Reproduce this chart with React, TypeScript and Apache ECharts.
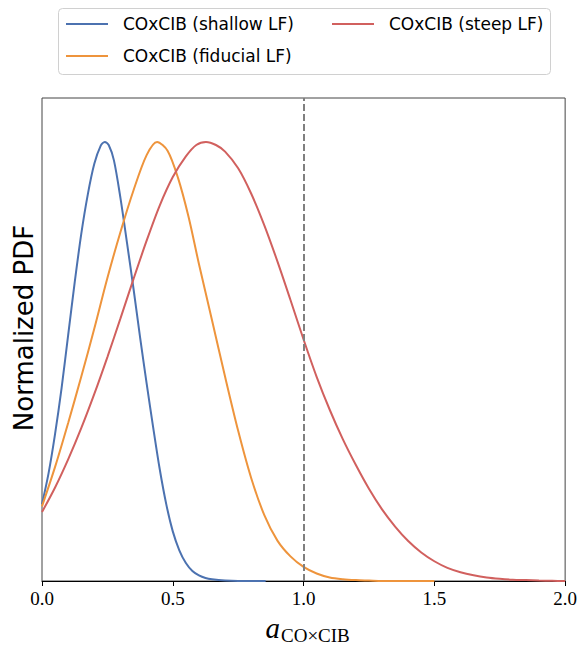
import React, { useEffect, useRef } from "react";
import * as echarts from "echarts";

// Shallow LF (blue)
const shallowX = [0, 0.025, 0.05, 0.075, 0.1, 0.125, 0.15, 0.175, 0.2, 0.225, 0.24, 0.255, 0.275, 0.3, 0.325, 0.35, 0.375, 0.4, 0.425, 0.45, 0.475, 0.5, 0.525, 0.55, 0.575, 0.6, 0.625, 0.65, 0.7, 0.75, 0.8, 0.855];
const shallowY = [0.175, 0.245, 0.335, 0.44, 0.56, 0.68, 0.79, 0.88, 0.95, 0.992, 1.0, 0.993, 0.958, 0.872, 0.77, 0.665, 0.555, 0.45, 0.35, 0.255, 0.175, 0.113, 0.07, 0.041, 0.023, 0.013, 0.007, 0.004, 0.001, 0.0, 0.0, 0.0];

// Fiducial LF (orange)
const fiducialX = [0, 0.05, 0.1, 0.15, 0.2, 0.25, 0.3, 0.35, 0.4, 0.44, 0.48, 0.52, 0.56, 0.6, 0.65, 0.7, 0.75, 0.8, 0.85, 0.9, 0.95, 1.0, 1.05, 1.1, 1.15, 1.2, 1.25, 1.3, 1.4, 1.5];
const fiducialY = [0.17, 0.26, 0.36, 0.465, 0.575, 0.69, 0.795, 0.89, 0.97, 1.0, 0.98, 0.918, 0.83, 0.722, 0.594, 0.465, 0.342, 0.234, 0.15, 0.092, 0.056, 0.032, 0.017, 0.008, 0.004, 0.002, 0.001, 0.0, 0.0, 0.0];

// Steep LF (red)
const steepX = [0, 0.05, 0.1, 0.15, 0.2, 0.25, 0.3, 0.35, 0.4, 0.45, 0.5, 0.55, 0.59, 0.627, 0.665, 0.7, 0.75, 0.8, 0.85, 0.9, 0.95, 1.0, 1.05, 1.1, 1.15, 1.2, 1.25, 1.3, 1.35, 1.4, 1.45, 1.5, 1.55, 1.6, 1.65, 1.7, 1.75, 1.8, 1.85, 1.9, 1.95, 2.0];
const steepY = [0.157, 0.213, 0.277, 0.348, 0.426, 0.51, 0.598, 0.688, 0.775, 0.855, 0.92, 0.967, 0.993, 1.0, 0.993, 0.978, 0.94, 0.882, 0.81, 0.728, 0.64, 0.55, 0.465, 0.39, 0.323, 0.264, 0.21, 0.163, 0.124, 0.091, 0.065, 0.045, 0.03, 0.02, 0.013, 0.008, 0.005, 0.003, 0.002, 0.001, 0.0005, 0.0];

const xTicks = [0, 0.5, 1.0, 1.5, 2.0];
const referenceLine = 1.0;

const seriesNames = ["COxCIB (shallow LF)", "COxCIB (fiducial LF)", "COxCIB (steep LF)"];
const colors = ["#4c72b0", "#ee943c", "#d1605e"];

const zip = (xs: number[], ys: number[]) => xs.map((x, i) => [x, ys[i]]);

export default function App() {
  const ref = useRef<HTMLDivElement>(null);
  useEffect(() => {
    const chart = echarts.init(ref.current!, null, { renderer: "svg" });
    const sans = "DejaVu Sans";
    const serif = "Liberation Serif";
    const lineSeries = (i: number, xs: number[], ys: number[]) => ({
      name: seriesNames[i],
      type: "line",
      data: zip(xs, ys),
      showSymbol: false,
      symbol: "none",
      smooth: 0.3,
      lineStyle: { color: colors[i], width: 2 },
      itemStyle: { color: colors[i] },
    });
    chart.setOption({
      animation: false,
      backgroundColor: "#ffffff",
      grid: {
        left: 42,
        top: 98,
        width: 525,
        height: 483,
        show: true,
        borderColor: "#444",
        borderWidth: 1,
        containLabel: false,
      },
      xAxis: {
        type: "value",
        min: xTicks[0],
        max: xTicks[xTicks.length - 1],
        interval: 0.5,
        axisLine: { show: true, lineStyle: { color: "#000", width: 1 } },
        axisTick: { show: true, length: 5, lineStyle: { color: "#000" } },
        axisLabel: {
          fontFamily: serif,
          fontSize: 19,
          color: "#000",
          margin: 8,
          formatter: (v: number) => v.toFixed(1),
        },
        splitLine: { show: false },
      },
      yAxis: {
        type: "value",
        min: 0,
        max: 1.1,
        axisLine: { show: false },
        axisTick: { show: false },
        axisLabel: { show: false },
        splitLine: { show: false },
      },
      series: [
        lineSeries(0, shallowX, shallowY),
        lineSeries(1, fiducialX, fiducialY),
        {
          ...lineSeries(2, steepX, steepY),
          markLine: {
            silent: true,
            symbol: ["none", "none"],
            label: { show: false },
            lineStyle: { color: "#808080", type: [7, 3], width: 2 },
            data: [{ xAxis: referenceLine }],
          },
        },
      ],
      graphic: [
        {
          type: "rect",
          shape: { x: 58.5, y: 8.5, width: 492, height: 66, r: 4 },
          style: { fill: "#fff", stroke: "#d0d0d0", lineWidth: 1 },
          z: 10,
        },
        {
          type: "line",
          shape: { x1: 66, y1: 24, x2: 108, y2: 24 },
          style: { stroke: colors[0], lineWidth: 2 },
          z: 11,
        },
        {
          type: "text",
          x: 123,
          y: 24,
          style: { text: seriesNames[0], fontFamily: sans, fontSize: 17, fill: "#000", verticalAlign: "middle" },
          z: 11,
        },
        {
          type: "line",
          shape: { x1: 66, y1: 56, x2: 108, y2: 56 },
          style: { stroke: colors[1], lineWidth: 2 },
          z: 11,
        },
        {
          type: "text",
          x: 123,
          y: 56,
          style: { text: seriesNames[1], fontFamily: sans, fontSize: 17, fill: "#000", verticalAlign: "middle" },
          z: 11,
        },
        {
          type: "line",
          shape: { x1: 332, y1: 24, x2: 374, y2: 24 },
          style: { stroke: colors[2], lineWidth: 2 },
          z: 11,
        },
        {
          type: "text",
          x: 389,
          y: 24,
          style: { text: seriesNames[2], fontFamily: sans, fontSize: 17, fill: "#000", verticalAlign: "middle" },
          z: 11,
        },
        {
          type: "text",
          x: 24,
          y: 328,
          rotation: Math.PI / 2,
          style: { text: "Normalized PDF", fontFamily: sans, fontSize: 26, fill: "#000", align: "center", verticalAlign: "middle" },
        },
        {
          type: "text",
          x: 280,
          y: 628,
          style: { text: "a", fontFamily: serif, fontStyle: "italic", fontSize: 29, fill: "#000", align: "right", verticalAlign: "middle" },
        },
        {
          type: "text",
          x: 281,
          y: 635,
          style: { text: "CO×CIB", fontFamily: serif, fontSize: 19, fill: "#000", align: "left", verticalAlign: "middle" },
        },
      ],
    });
    return () => chart.dispose();
  }, []);
  return (
    <div
      ref={ref}
      style={{ position: "fixed", left: 0, top: 0, width: 580, height: 646, background: "#fff" }}
    />
  );
}
